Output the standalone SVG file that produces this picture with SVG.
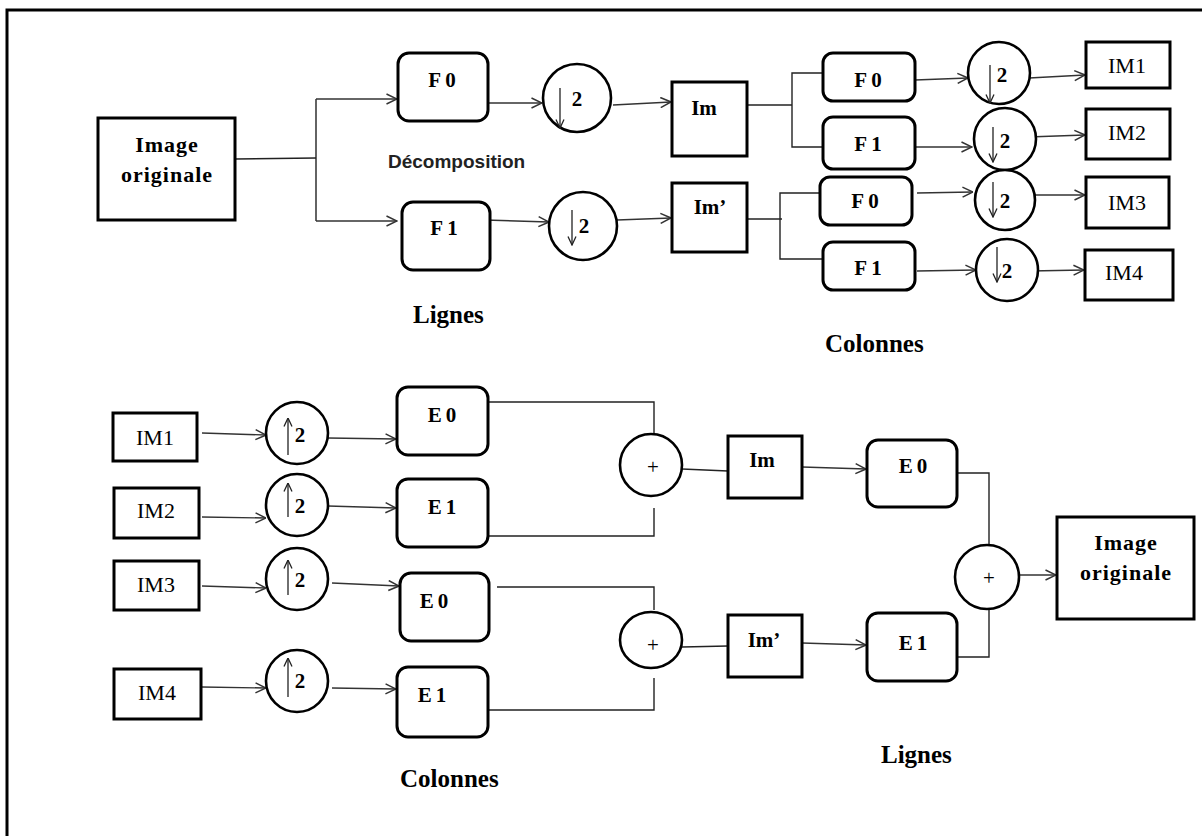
<svg xmlns="http://www.w3.org/2000/svg" width="1202" height="836" viewBox="0 0 1202 836">
<defs>
<marker id="arr" markerUnits="userSpaceOnUse" viewBox="0 0 12 12" refX="11.5" refY="6" markerWidth="12" markerHeight="12" orient="auto">
<path d="M1,1 L11.5,6 L1,11" fill="none" stroke="#333" stroke-width="1.5"/>
</marker>
<marker id="arrS" markerUnits="userSpaceOnUse" viewBox="0 0 10 10" refX="9.5" refY="5" markerWidth="10" markerHeight="10" orient="auto">
<path d="M1,1 L9.5,5 L1,9" fill="none" stroke="#222" stroke-width="1.3"/>
</marker>
<style>
.box{fill:#fff;stroke:#000;stroke-width:3}
.rbox{fill:#fff;stroke:#000;stroke-width:3}
.circ{fill:#fff;stroke:#000;stroke-width:2.6}
.ln{fill:none;stroke:#222;stroke-width:1.4}
.ar{fill:none;stroke:#333;stroke-width:1.4;marker-end:url(#arr)}
.dn{fill:none;stroke:#222;stroke-width:1.3;marker-end:url(#arrS)}
.lbl{font-family:"Liberation Serif","Times New Roman",serif;font-weight:bold;font-size:21px;text-anchor:middle;fill:#000}
.lblE{font-family:"Liberation Serif","Times New Roman",serif;font-weight:bold;font-size:21px;text-anchor:middle;fill:#000;letter-spacing:4px}
.im{font-family:"Liberation Serif","Times New Roman",serif;font-size:22px;text-anchor:middle;fill:#000}
.two{font-family:"Liberation Serif","Times New Roman",serif;font-weight:bold;font-size:21px;text-anchor:middle;fill:#000}
.plus{font-family:"Liberation Serif","Times New Roman",serif;font-size:21px;text-anchor:middle;fill:#000}
.big{font-family:"Liberation Serif","Times New Roman",serif;font-weight:bold;font-size:22px;text-anchor:middle;fill:#000;letter-spacing:1px}
.head{font-family:"Liberation Serif","Times New Roman",serif;font-weight:bold;font-size:25px;fill:#000}
.sans{font-family:"Liberation Sans",Arial,sans-serif;font-weight:bold;font-size:19px;fill:#222}
</style>
</defs>
<rect width="1202" height="836" fill="#fff"/>
<path d="M7,836 L7,10 L1202,10" fill="none" stroke="#000" stroke-width="3"/>

<g id="connectors">
<polyline class="ln" points="235,159 316,158"/>
<polyline class="ln" points="316,99 316,221"/>
<line class="ar" x1="316" y1="99" x2="397" y2="99"/>
<line class="ar" x1="316" y1="221" x2="397" y2="221"/>
<line class="ar" x1="482" y1="103" x2="542" y2="103"/>
<line class="ar" x1="485" y1="220" x2="549" y2="222"/>
<line class="ar" x1="613" y1="105" x2="671" y2="102"/>
<line class="ar" x1="617" y1="220" x2="671" y2="218"/>
<polyline class="ln" points="747,105 792,105"/>
<polyline class="ln" points="823,73 792,73 792,147 823,147"/>
<polyline class="ln" points="738,219 782,219"/>
<polyline class="ln" points="820,193 780,193 780,259 823,259"/>
<line class="ar" x1="915" y1="80" x2="968" y2="78"/>
<line class="ar" x1="915" y1="147" x2="972" y2="147"/>
<line class="ar" x1="917" y1="193" x2="973" y2="192"/>
<line class="ar" x1="917" y1="271" x2="976" y2="270"/>
<line class="ar" x1="1029" y1="78" x2="1085" y2="75"/>
<line class="ar" x1="1028" y1="137" x2="1085" y2="135"/>
<line class="ar" x1="1028" y1="195" x2="1085" y2="195"/>
<line class="ar" x1="1030" y1="271" x2="1084" y2="270"/>
<line class="ar" x1="202" y1="433" x2="266" y2="435"/>
<line class="ar" x1="328" y1="438" x2="396" y2="439"/>
<line class="ar" x1="202" y1="517" x2="266" y2="518"/>
<line class="ar" x1="328" y1="506" x2="396" y2="508"/>
<line class="ar" x1="202" y1="586" x2="266" y2="588"/>
<line class="ar" x1="332" y1="583" x2="399" y2="586"/>
<line class="ar" x1="202" y1="687" x2="266" y2="688"/>
<line class="ar" x1="332" y1="688" x2="396" y2="689"/>
<polyline class="ln" points="488,402 654,402 654,433"/>
<polyline class="ln" points="488,536 654,536 654,508"/>
<line class="ln" x1="682" y1="469" x2="728" y2="471"/>
<polyline class="ln" points="497,587 654,587 654,610"/>
<polyline class="ln" points="488,710 654,710 654,678"/>
<line class="ln" x1="682" y1="647" x2="728" y2="646"/>
<line class="ar" x1="802" y1="467" x2="866" y2="469"/>
<line class="ar" x1="802" y1="643" x2="866" y2="645"/>
<polyline class="ln" points="957,473 989,473 989,545"/>
<polyline class="ln" points="957,657 989,657 989,609"/>
<line class="ar" x1="1019" y1="575" x2="1056" y2="575"/>
</g>

<g id="img-orig-1"><rect class="box" x="98" y="118" width="137" height="102"/><text class="big" x="167" y="152">Image</text><text class="big" x="167" y="182">originale</text></g>
<g id="F0-lig"><rect class="rbox" x="398" y="53" width="90" height="68" rx="11"/><text class="lblE" x="444" y="87">F0</text></g>
<g id="F1-lig"><rect class="rbox" x="402" y="202" width="88" height="68" rx="11"/><text class="lblE" x="446" y="235">F1</text></g>
<g id="down-1"><circle class="circ" cx="577" cy="98" r="34"/><line class="dn" x1="560" y1="88" x2="560" y2="128"/><text class="two" x="577" y="106">2</text></g>
<g id="down-2"><circle class="circ" cx="583" cy="226" r="34"/><line class="dn" x1="572" y1="210" x2="572" y2="245"/><text class="two" x="584" y="233">2</text></g>
<g id="Im-top"><rect class="box" x="672" y="82" width="75" height="74"/><text class="lbl" x="704" y="115">Im</text></g>
<g id="Imp-top"><rect class="box" x="672" y="183" width="75" height="69"/><text class="lbl" x="710" y="214">Im’</text></g>
<g id="F0-col-a"><rect class="rbox" x="823" y="53" width="92" height="48" rx="10"/><text class="lblE" x="870" y="87">F0</text></g>
<g id="F1-col-a"><rect class="rbox" x="823" y="117" width="92" height="52" rx="10"/><text class="lblE" x="870" y="151">F1</text></g>
<g id="F0-col-b"><rect class="rbox" x="820" y="177" width="92" height="48" rx="10"/><text class="lblE" x="867" y="208">F0</text></g>
<g id="F1-col-b"><rect class="rbox" x="823" y="242" width="92" height="48" rx="10"/><text class="lblE" x="870" y="275">F1</text></g>
<g id="down-3"><circle class="circ" cx="999" cy="73" r="31"/><line class="dn" x1="990" y1="65" x2="990" y2="103"/><text class="two" x="1002" y="82">2</text></g>
<g id="down-4"><circle class="circ" cx="1005" cy="139" r="31"/><line class="dn" x1="993" y1="127" x2="993" y2="162"/><text class="two" x="1005" y="148">2</text></g>
<g id="down-5"><circle class="circ" cx="1005" cy="200" r="30"/><line class="dn" x1="993" y1="182" x2="993" y2="217"/><text class="two" x="1005" y="208">2</text></g>
<g id="down-6"><circle class="circ" cx="1007" cy="270" r="31"/><line class="dn" x1="997" y1="247" x2="997" y2="282"/><text class="two" x="1007" y="278">2</text></g>
<g id="IM1-out"><rect class="box" x="1086" y="42" width="84" height="46"/><text class="im" x="1127" y="73">IM1</text></g>
<g id="IM2-out"><rect class="box" x="1086" y="109" width="84" height="50"/><text class="im" x="1127" y="140">IM2</text></g>
<g id="IM3-out"><rect class="box" x="1086" y="177" width="83" height="51"/><text class="im" x="1127" y="210">IM3</text></g>
<g id="IM4-out"><rect class="box" x="1085" y="250" width="88" height="50"/><text class="im" x="1124" y="280">IM4</text></g>
<g id="labels-top">
<text class="sans" x="388" y="168">Décomposition</text>
<text class="head" x="413" y="323">Lignes</text>
<text class="head" x="825" y="352">Colonnes</text>
</g>

<g id="IM1-in"><rect class="box" x="113" y="413" width="84" height="48"/><text class="im" x="155" y="445">IM1</text></g>
<g id="IM2-in"><rect class="box" x="114" y="488" width="85" height="50"/><text class="im" x="156" y="518">IM2</text></g>
<g id="IM3-in"><rect class="box" x="114" y="561" width="85" height="49"/><text class="im" x="156" y="592">IM3</text></g>
<g id="IM4-in"><rect class="box" x="114" y="669" width="87" height="50"/><text class="im" x="157" y="700">IM4</text></g>
<g id="up-1"><circle class="circ" cx="297" cy="433" r="31"/><line class="dn" x1="288" y1="455" x2="288" y2="418"/><text class="two" x="300" y="442">2</text></g>
<g id="up-2"><circle class="circ" cx="297" cy="505" r="31"/><line class="dn" x1="288" y1="517" x2="288" y2="483"/><text class="two" x="300" y="513">2</text></g>
<g id="up-3"><circle class="circ" cx="297" cy="579" r="31"/><line class="dn" x1="288" y1="595" x2="288" y2="560"/><text class="two" x="300" y="587">2</text></g>
<g id="up-4"><circle class="circ" cx="297" cy="681" r="31"/><line class="dn" x1="288" y1="697" x2="288" y2="658"/><text class="two" x="300" y="688">2</text></g>
<g id="E0-col-a"><rect class="rbox" x="397" y="387" width="91" height="68" rx="11"/><text class="lblE" x="444" y="422">E0</text></g>
<g id="E1-col-a"><rect class="rbox" x="397" y="479" width="91" height="68" rx="11"/><text class="lblE" x="444" y="514">E1</text></g>
<g id="E0-col-b"><rect class="rbox" x="400" y="573" width="89" height="68" rx="11"/><text class="lblE" x="436" y="608">E0</text></g>
<g id="E1-col-b"><rect class="rbox" x="397" y="667" width="91" height="70" rx="11"/><text class="lblE" x="434" y="702">E1</text></g>
<g id="sum-1"><circle class="circ" cx="651" cy="465" r="31"/><text class="plus" x="653" y="474">+</text></g>
<g id="sum-2"><ellipse class="circ" cx="651" cy="640" rx="31" ry="28"/><text class="plus" x="653" y="652">+</text></g>
<g id="Im-bot"><rect class="box" x="728" y="436" width="74" height="62"/><text class="lbl" x="762" y="467">Im</text></g>
<g id="Imp-bot"><rect class="box" x="728" y="615" width="74" height="62"/><text class="lbl" x="764" y="647">Im’</text></g>
<g id="E0-lig"><rect class="rbox" x="867" y="440" width="90" height="67" rx="11"/><text class="lblE" x="915" y="473">E0</text></g>
<g id="E1-lig"><rect class="rbox" x="867" y="613" width="90" height="68" rx="11"/><text class="lblE" x="915" y="650">E1</text></g>
<g id="sum-3"><circle class="circ" cx="987" cy="577" r="32"/><text class="plus" x="989" y="585">+</text></g>
<g id="img-orig-2"><rect class="box" x="1057" y="517" width="137" height="102"/><text class="big" x="1126" y="550">Image</text><text class="big" x="1126" y="580">originale</text></g>
<g id="labels-bottom">
<text class="head" x="400" y="787">Colonnes</text>
<text class="head" x="881" y="763">Lignes</text>
</g>
</svg>
